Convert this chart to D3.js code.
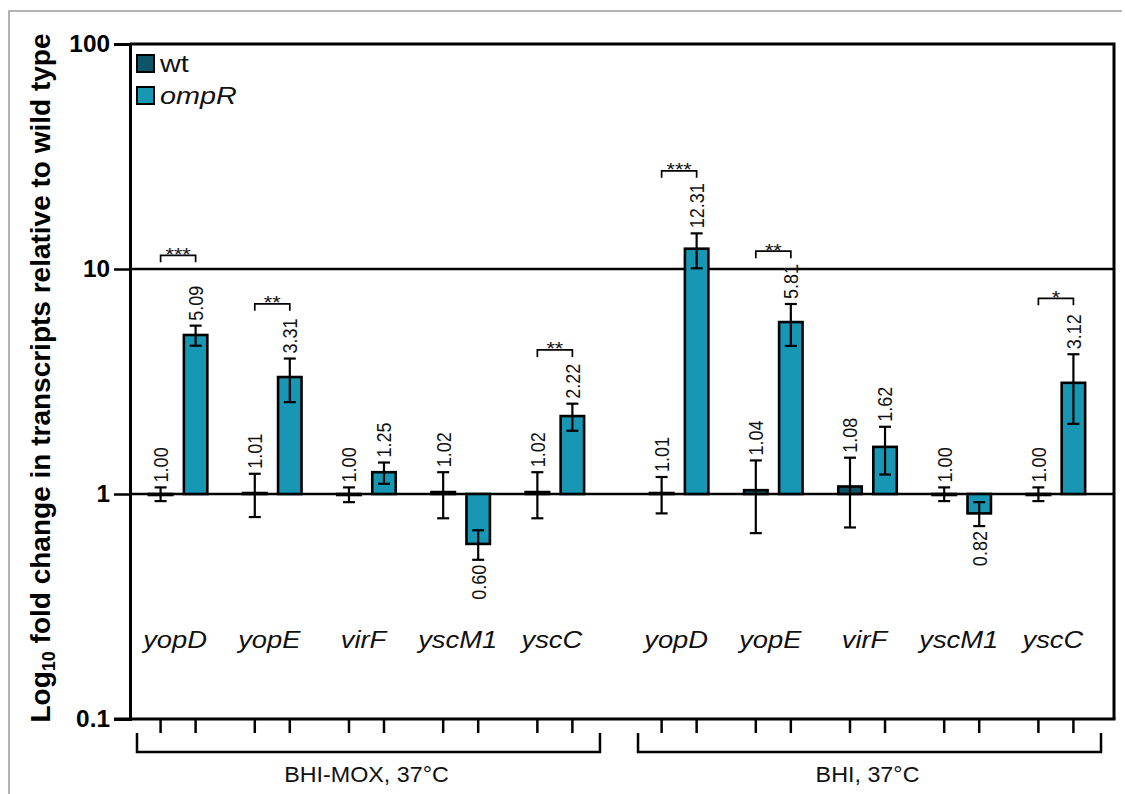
<!DOCTYPE html>
<html>
<head>
<meta charset="utf-8">
<script src="https://cdn.jsdelivr.net/npm/d3@7"></script>
<style>
  html, body { margin: 0; padding: 0; background: #fff; }
  svg { display: block; font-family: "Liberation Sans", Arial, sans-serif; }
</style>
</head>
<body>
<svg id="chart" width="1125" height="794"></svg>
<script>
// ---------------- data ----------------
const groups = ["BHI-MOX, 37°C", "BHI, 37°C"];
const genes = ["yopD", "yopE", "virF", "yscM1", "yscC"];
const strains = ["wt", "ompR"];

const wtMox   = [1.00, 1.01, 1.00, 1.02, 1.02];
const wtBhi   = [1.01, 1.04, 1.08, 1.00, 1.00];
const ompRMox = [5.09, 3.31, 1.25, 0.60, 2.22];
const ompRBhi = [12.31, 5.81, 1.62, 0.82, 3.12];

const wtMoxLo   = [0.93, 0.79, 0.92, 0.78, 0.78];
const wtMoxHi   = [1.07, 1.23, 1.07, 1.25, 1.25];
const wtBhiLo   = [0.82, 0.67, 0.71, 0.93, 0.93];
const wtBhiHi   = [1.19, 1.41, 1.45, 1.07, 1.07];
const ompRMoxLo = [4.56, 2.56, 1.11, 0.51, 1.91];
const ompRMoxHi = [5.60, 4.00, 1.38, 0.69, 2.52];
const ompRBhiLo = [10.07, 4.55, 1.22, 0.72, 2.05];
const ompRBhiHi = [14.40, 6.99, 1.99, 0.92, 4.18];

const yTicks = [0.1, 1, 10, 100];

// significance brackets
const sigGroup = [0, 0, 0, 1, 1, 1];
const sigGene  = ["yopD", "yopE", "yscC", "yopD", "yopE", "yscC"];
const sigStars = ["***", "**", "**", "***", "**", "*"];
const sigLevel = [11.5, 7.0, 4.37, 27.3, 12.0, 7.41];

const colors = { wt: "#0d5468", ompR: "#1797b3" };

// ---------------- build records ----------------
const valueSets = { wt: [wtMox, wtBhi], ompR: [ompRMox, ompRBhi] };
const loSets = { wt: [wtMoxLo, wtBhiLo], ompR: [ompRMoxLo, ompRBhiLo] };
const hiSets = { wt: [wtMoxHi, wtBhiHi], ompR: [ompRMoxHi, ompRBhiHi] };
const records = [];
groups.forEach((g, gi) => genes.forEach((gene, k) => strains.forEach(s => {
  records.push({ group: g, gene, strain: s, value: valueSets[s][gi][k],
                 lo: loSets[s][gi][k], hi: hiSets[s][gi][k] });
})));

// ---------------- layout ----------------
const svg = d3.select("#chart");
const L = 130, R = 1114, T = 44, B = 719;
const FONT = "'Liberation Sans', Arial, sans-serif";
const SX = 1.14; // horizontal stretch of the original figure's lettering

const y = d3.scaleLog().domain([0.1, 100]).range([B, T]);
const x0 = d3.scaleBand().domain(groups).range([L + 1, R - 11]).paddingInner(0.06);
const x1 = d3.scaleBand().domain(genes).range([0, x0.bandwidth()]);
const x2 = d3.scaleBand().domain(strains).range([0, x1.bandwidth()]).paddingInner(0.33).paddingOuter(0.51);
const cx = d => x0(d.group) + x1(d.gene) + x2(d.strain) + x2.bandwidth() / 2;

// outer gray frame (top + left)
svg.append("path").attr("d", "M9,794V11H1122").attr("fill", "none")
  .attr("stroke", "#9b9b9b").attr("stroke-width", 1.5);

// reference lines at 1 and 10
svg.append("g").selectAll("line").data([1, 10]).join("line")
  .attr("x1", L).attr("x2", R).attr("y1", d => y(d)).attr("y2", d => y(d))
  .attr("stroke", "#000").attr("stroke-width", 2.5);

// bars
svg.append("g").selectAll("rect").data(records).join("rect")
  .attr("x", d => x0(d.group) + x1(d.gene) + x2(d.strain))
  .attr("width", x2.bandwidth())
  .attr("y", d => Math.min(y(d.value), y(1)))
  .attr("height", d => Math.max(1, Math.abs(y(d.value) - y(1))))
  .attr("fill", d => colors[d.strain])
  .attr("stroke", "#000").attr("stroke-width", 2.6);

// error bars
const eb = svg.append("g").attr("stroke", "#000").attr("stroke-width", 2.2);
eb.selectAll("line.v").data(records).join("line").attr("class", "v")
  .attr("x1", cx).attr("x2", cx).attr("y1", d => y(d.lo)).attr("y2", d => y(d.hi));
eb.selectAll("line.t").data(records).join("line").attr("class", "t")
  .attr("x1", d => cx(d) - 6).attr("x2", d => cx(d) + 6)
  .attr("y1", d => y(d.hi)).attr("y2", d => y(d.hi));
eb.selectAll("line.b").data(records).join("line").attr("class", "b")
  .attr("x1", d => cx(d) - 6).attr("x2", d => cx(d) + 6)
  .attr("y1", d => y(d.lo)).attr("y2", d => y(d.lo));

// value labels (rotated)
const fmt = d3.format(".2f");
svg.append("g").selectAll("text").data(records).join("text")
  .attr("transform", d => d.value >= 1
      ? `translate(${cx(d)},${y(d.hi) - 5}) scale(${SX},1) rotate(-90)`
      : `translate(${cx(d)},${y(d.lo) + 5}) scale(${SX},1) rotate(-90)`)
  .attr("text-anchor", d => d.value >= 1 ? "start" : "end")
  .attr("dy", "0.36em")
  .attr("font-size", 18).attr("fill", "#111")
  .text(d => fmt(d.value));

// significance brackets
const sig = sigGroup.map((gi, i) => ({ group: groups[gi], gene: sigGene[i], stars: sigStars[i], level: sigLevel[i] }));
const sx = (d, s) => x0(d.group) + x1(d.gene) + x2(s) + x2.bandwidth() / 2;
const sg = svg.append("g");
sg.selectAll("path").data(sig).join("path")
  .attr("d", d => `M${sx(d, "wt")},${y(d.level) + 7}V${y(d.level)}H${sx(d, "ompR")}V${y(d.level) + 7}`)
  .attr("fill", "none").attr("stroke", "#000").attr("stroke-width", 1.7);
sg.selectAll("text").data(sig).join("text")
  .attr("transform", d => `translate(${(sx(d, "wt") + sx(d, "ompR")) / 2},${y(d.level) + 5.5}) scale(${SX},1)`)
  .attr("text-anchor", "middle").attr("font-size", 19).attr("fill", "#111")
  .text(d => d.stars);

// frame: top + right
svg.append("path").attr("d", `M${L},${T}H${R}V${B}`).attr("fill", "none")
  .attr("stroke", "#000").attr("stroke-width", 3);

// y axis
const yAxis = svg.append("g").attr("transform", `translate(${L},0)`)
  .call(d3.axisLeft(y).tickValues(yTicks).tickFormat(d3.format("~g")).tickSize(16).tickPadding(4));
yAxis.select(".domain").attr("stroke-width", 3);
yAxis.selectAll(".tick line").attr("stroke-width", 2.5);
yAxis.selectAll(".tick text")
  .attr("x", 0).attr("transform", `translate(-20,0) scale(1.06,1)`)
  .attr("font-size", 23).attr("font-weight", "bold")
  .attr("font-family", FONT).attr("fill", "#000");

// x axis line + ticks under each bar
svg.append("line").attr("x1", L - 16).attr("x2", R + 1.5).attr("y1", B).attr("y2", B)
  .attr("stroke", "#000").attr("stroke-width", 3);
svg.append("g").selectAll("line").data(records).join("line")
  .attr("x1", cx).attr("x2", cx).attr("y1", B).attr("y2", B + 14)
  .attr("stroke", "#000").attr("stroke-width", 2.5);

// gene labels
svg.append("g").selectAll("text").data(groups.flatMap(g => genes.map(gene => ({ group: g, gene }))))
  .join("text")
  .attr("transform", d => `translate(${x0(d.group) + x1(d.gene) + x1.bandwidth() / 2 - 3},648) scale(${SX},1)`)
  .attr("text-anchor", "middle").attr("font-size", 24).attr("font-style", "italic").attr("fill", "#111")
  .text(d => d.gene);

// group brackets & labels
const gb = svg.append("g");
gb.selectAll("path").data(groups).join("path")
  .attr("d", g => `M${x0(g) + 6},${B + 14}V${B + 33}H${x0(g) + x0.bandwidth() - 2}V${B + 14}`)
  .attr("fill", "none").attr("stroke", "#000").attr("stroke-width", 2.5);
gb.selectAll("text").data(groups).join("text")
  .attr("transform", g => `translate(${x0(g) + x0.bandwidth() / 2},782) scale(1.06,1)`)
  .attr("text-anchor", "middle").attr("font-size", 22).attr("fill", "#111")
  .text(g => g);

// legend
const lg = svg.append("g").selectAll("g").data(strains).join("g")
  .attr("transform", (d, i) => `translate(137,${55 + i * 32})`);
lg.append("rect").attr("width", 17).attr("height", 17)
  .attr("fill", d => colors[d]).attr("stroke", "#000").attr("stroke-width", 2);
lg.append("text").attr("transform", "translate(23,16.5) scale(1.2,1)")
  .attr("font-size", 24).attr("fill", "#111")
  .attr("font-style", d => d === "ompR" ? "italic" : "normal")
  .text(d => d);

// y title
const yt = svg.append("text")
  .attr("transform", `translate(50,378) rotate(-90)`)
  .attr("text-anchor", "middle").attr("font-size", 28).attr("font-weight", "bold").attr("fill", "#000");
yt.append("tspan").text("Log");
yt.append("tspan").attr("font-size", 18).attr("dy", 5).text("10");
yt.append("tspan").attr("dy", -5).text(" fold change in transcripts relative to wild type");
</script>
</body>
</html>
